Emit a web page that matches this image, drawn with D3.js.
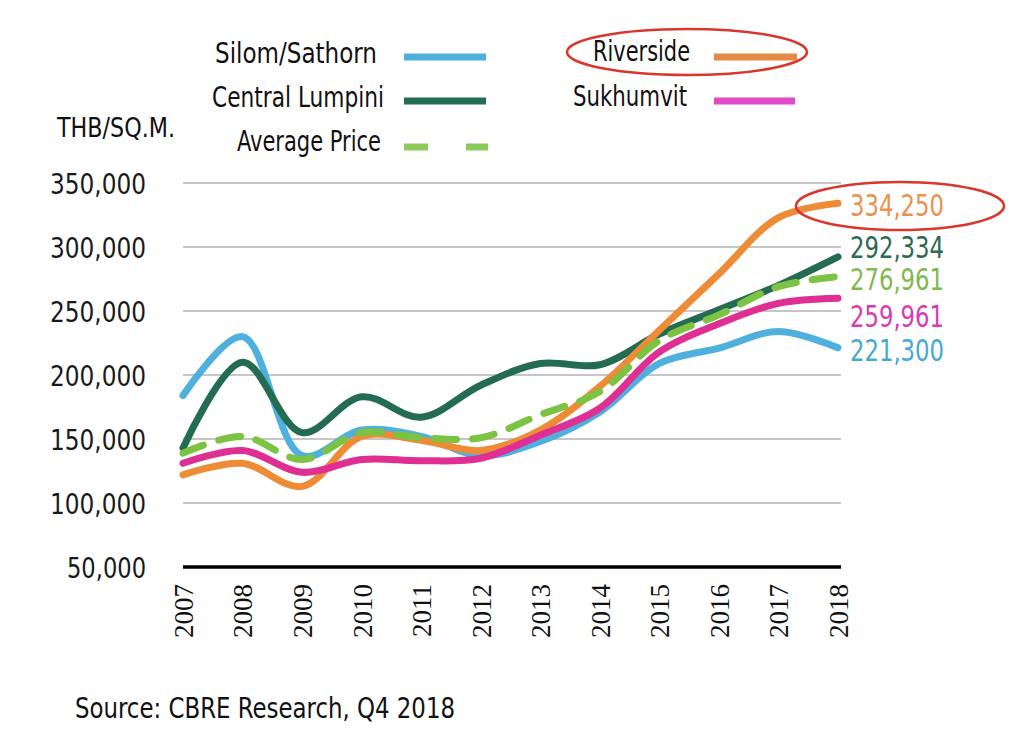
<!DOCTYPE html>
<html>
<head>
<meta charset="utf-8">
<script src="https://cdn.jsdelivr.net/npm/d3@7"></script>
<style>
  html, body { margin: 0; padding: 0; background: #ffffff; }
  svg { display: block; }
  .cond { font-family: "DejaVu Sans Condensed", "DejaVu Sans", sans-serif; font-stretch: condensed; }
  .serif { font-family: "Liberation Serif", "DejaVu Serif", serif; }
</style>
</head>
<body>
<svg id="chart" width="1034" height="752"></svg>
<script>
// ---- data ----
const years = [2007, 2008, 2009, 2010, 2011, 2012, 2013, 2014, 2015, 2016, 2017, 2018];
const silomSathorn   = [184000, 230000, 137000, 157000, 152000, 137000, 148000, 171000, 209000, 221000, 234000, 221300];
const centralLumpini = [143000, 210000, 155000, 183000, 167000, 192000, 209000, 208000, 232000, 251000, 270000, 292334];
const averagePrice   = [139000, 152000, 134000, 155000, 151000, 151000, 169000, 187000, 227000, 247000, 269000, 276961];
const riverside      = [122000, 131000, 113000, 152000, 149000, 141000, 157000, 191000, 235000, 279000, 323000, 334250];
const sukhumvit      = [131000, 141000, 124000, 134000, 133000, 135000, 153000, 174000, 218000, 240000, 256000, 259961];
const yTicks = [50000, 100000, 150000, 200000, 250000, 300000, 350000];
const seriesNames = ["Silom/Sathorn", "Central Lumpini", "Average Price", "Riverside", "Sukhumvit"];
const endLabels = ["221,300", "292,334", "276,961", "334,250", "259,961"];

const svg = d3.select("#chart");
const x = d3.scaleLinear().domain([2007, 2018]).range([183, 838]);
const y = d3.scaleLinear().domain([50000, 350000]).range([567, 183]);

// fit a text element's width (condensed look of the original typeface)
function fitWidth(sel, widthFn) {
  sel.each(function(d, i) {
    const w = widthFn(d, i, this);
    if (w) d3.select(this).attr("textLength", w).attr("lengthAdjust", "spacingAndGlyphs");
  });
}

// gridlines
svg.append("g")
  .selectAll("line")
  .data(yTicks.filter(d => d > 50000))
  .join("line")
  .attr("x1", 183).attr("x2", 841)
  .attr("y1", d => y(d)).attr("y2", d => y(d))
  .attr("stroke", "#c6c6c6").attr("stroke-width", 2);

// y axis labels
const yAxis = svg.append("g")
  .attr("transform", "translate(146,0)")
  .call(d3.axisLeft(y).tickValues(yTicks).tickSize(0).tickPadding(0).tickFormat(d3.format(",")));
yAxis.select(".domain").remove();
yAxis.selectAll("text")
  .attr("class", "cond")
  .attr("font-size", 28)
  .attr("fill", "#1a1a1a")
  .attr("dy", "0.36em")
  .call(fitWidth, (d) => d >= 100000 ? 96 : 79);

// x axis
const xAxis = svg.append("g")
  .attr("transform", "translate(0,567)")
  .call(d3.axisBottom(x).tickValues(years).tickSize(0).tickFormat(d3.format("d")));
xAxis.select(".domain").attr("stroke", "#000").attr("stroke-width", 3.5)
  .attr("d", "M183,0H841");
xAxis.selectAll("text")
  .attr("class", "serif")
  .attr("font-size", 27)
  .attr("font-weight", 500)
  .attr("fill", "#111")
  .attr("transform", "rotate(-90)")
  .attr("text-anchor", "end")
  .attr("x", -17)
  .attr("y", 0)
  .attr("dy", "0.35em");

// lines
const series = [
  { name: seriesNames[0], values: silomSathorn,   color: "#4fb0de", dash: null, lab: endLabels[0], labColor: "#4aa8d4" },
  { name: seriesNames[1], values: centralLumpini, color: "#236b51", dash: null, lab: endLabels[1], labColor: "#2c6a54" },
  { name: seriesNames[3], values: riverside,      color: "#ee8b37", dash: null, lab: endLabels[3], labColor: "#eb9150" },
  { name: seriesNames[4], values: sukhumvit,      color: "#df2f93", dash: null, lab: endLabels[4], labColor: "#d83bb2" },
  { name: seriesNames[2], values: averagePrice,   color: "#7cc243", dash: "22,16", lab: endLabels[2], labColor: "#7fb94f" }
];
const line = d3.line()
  .x((d, i) => x(years[i]))
  .y(d => y(d))
  .curve(d3.curveCatmullRom.alpha(0.5));

svg.append("g").selectAll("path")
  .data(series)
  .join("path")
  .attr("d", d => line(d.values))
  .attr("fill", "none")
  .attr("stroke", d => d.color)
  .attr("stroke-width", 7)
  .attr("stroke-linecap", "round")
  .attr("stroke-dasharray", d => d.dash);

// end labels
const labY = { "334,250": 205, "292,334": 247, "276,961": 279, "259,961": 316, "221,300": 350 };
svg.append("g").selectAll("text")
  .data(series)
  .join("text")
  .attr("class", "cond")
  .attr("x", 850)
  .attr("y", d => labY[d.lab])
  .attr("dy", "0.36em")
  .attr("font-size", 30)
  .attr("fill", d => d.labColor)
  .text(d => d.lab)
  .call(fitWidth, () => 94);

// legend
const legend = [
  { name: seriesNames[0], color: "#4fb0de", tx: 377, ty: 53, w: 162, lx1: 404, lx2: 486, ly: 57, dash: null },
  { name: seriesNames[1], color: "#236b51", tx: 384, ty: 97, w: 172, lx1: 404, lx2: 486, ly: 101, dash: null },
  { name: seriesNames[2], color: "#8ccb5a", tx: 381, ty: 141, w: 144, lx1: 404, lx2: 488, ly: 147, dash: "24,38" },
  { name: seriesNames[3], color: "#e58a45", tx: 690, ty: 51, w: 97, lx1: 714, lx2: 797, ly: 57, dash: null },
  { name: seriesNames[4], color: "#e04ac6", tx: 687, ty: 96, w: 114, lx1: 714, lx2: 795, ly: 101, dash: null }
];
const lg = svg.append("g");
lg.selectAll("text").data(legend).join("text")
  .attr("class", "cond")
  .attr("x", d => d.tx - d.w).attr("y", d => d.ty).attr("dy", "0.36em")
  .attr("font-size", 28)
  .attr("fill", "#111")
  .text(d => d.name)
  .call(fitWidth, d => d.w);
lg.selectAll("line").data(legend).join("line")
  .attr("x1", d => d.lx1).attr("x2", d => d.lx2)
  .attr("y1", d => d.ly).attr("y2", d => d.ly)
  .attr("stroke", d => d.color).attr("stroke-width", 7)
  .attr("stroke-dasharray", d => d.dash);

// axis title
svg.append("text").attr("class", "cond")
  .attr("x", 57).attr("y", 128).attr("dy", "0.36em")
  .attr("font-size", 26).attr("fill", "#111")
  .attr("textLength", 118).attr("lengthAdjust", "spacingAndGlyphs")
  .text("THB/SQ.M.");

// source
svg.append("text").attr("class", "cond")
  .attr("x", 75).attr("y", 708).attr("dy", "0.36em")
  .attr("font-size", 29).attr("fill", "#111")
  .attr("textLength", 380).attr("lengthAdjust", "spacingAndGlyphs")
  .text("Source: CBRE Research, Q4 2018");

// red annotation ellipses
svg.append("ellipse").attr("cx", 687).attr("cy", 52).attr("rx", 120).attr("ry", 23)
  .attr("fill", "none").attr("stroke", "#d9372b").attr("stroke-width", 2.5);
svg.append("ellipse").attr("cx", 900).attr("cy", 206).attr("rx", 104).attr("ry", 24)
  .attr("fill", "none").attr("stroke", "#d9372b").attr("stroke-width", 2.5);
</script>
</body>
</html>
